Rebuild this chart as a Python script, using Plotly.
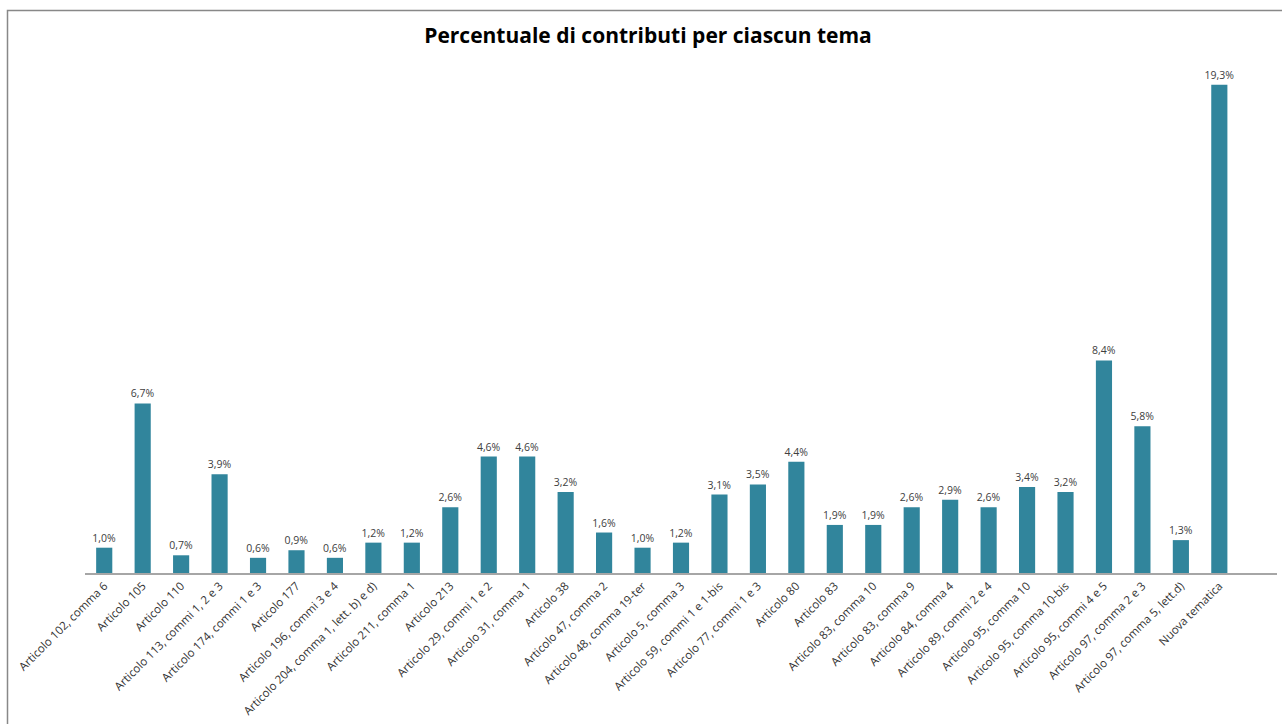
import plotly.graph_objects as go

categories = [
    "Articolo 102, comma 6", "Articolo 105", "Articolo 110", "Articolo 113, commi 1, 2 e 3",
    "Articolo 174, commi 1 e 3", "Articolo 177", "Articolo 196, commi 3 e 4",
    "Articolo 204, comma 1, lett. b) e d)", "Articolo 211, comma 1", "Articolo 213",
    "Articolo 29, commi 1 e 2", "Articolo 31, comma 1", "Articolo 38", "Articolo 47, comma 2",
    "Articolo 48, comma 19-ter", "Articolo 5, comma 3", "Articolo 59, commi 1 e 1-bis",
    "Articolo 77, commi 1 e 3", "Articolo 80", "Articolo 83", "Articolo 83, comma 10",
    "Articolo 83, comma 9", "Articolo 84, comma 4", "Articolo 89, commi 2 e 4",
    "Articolo 95, comma 10", "Articolo 95, comma 10-bis", "Articolo 95, commi 4 e 5",
    "Articolo 97, comma 2 e 3", "Articolo 97, comma 5, lett.d)", "Nuova tematica",
]
values = [1.0, 6.7, 0.7, 3.9, 0.6, 0.9, 0.6, 1.2, 1.2, 2.6, 4.6, 4.6, 3.2, 1.6, 1.0,
          1.2, 3.1, 3.5, 4.4, 1.9, 1.9, 2.6, 2.9, 2.6, 3.4, 3.2, 8.4, 5.8, 1.3, 19.3]
labels = [f"{v:.1f}%".replace(".", ",") for v in values]
title = "Percentuale di contributi per ciascun tema"

W, H = 1282, 724
L, T = 85, 67
R = W - 1277
B = H - 573
pw, ph = W - L - R, H - T - B

fig = go.Figure(go.Bar(
    x=categories, y=values, text=labels, textposition="outside",
    constraintext="none",
    textfont=dict(family="Open Sans, sans-serif", size=10.5, color="#404040"),
    marker=dict(color="#31859C", line=dict(width=0)),
    width=0.42, cliponaxis=False,
))

fig.update_layout(
    width=W, height=H,
    margin=dict(l=L, r=R, t=T, b=B, autoexpand=False),
    paper_bgcolor="white", plot_bgcolor="white",
    title=dict(text=f"<b>{title}</b>", x=648 / W, xanchor="center",
               y=1 - 36 / H, yanchor="middle", yref="container",
               font=dict(family="Open Sans, sans-serif", size=21, color="black")),
    xaxis=dict(type="category", range=[-0.5, 30.5], tickangle=-45,
               tickfont=dict(family="Open Sans, sans-serif", size=11.5, color="#333333"),
               showline=True, linecolor="#A6A6A6", linewidth=1.5,
               showgrid=False, ticks="", automargin=False),
    yaxis=dict(range=[0, 20], visible=False, showgrid=False, zeroline=False),
    showlegend=False,
    shapes=[dict(type="rect", xref="paper", yref="paper",
                 x0=(7.5 - L) / pw, x1=(W + 10 - L) / pw,
                 y0=(T + ph - (H + 10)) / ph, y1=(T + ph - 10.5) / ph,
                 line=dict(color="#888888", width=1.5), fillcolor="rgba(0,0,0,0)",
                 layer="below")],
)

fig.write_html("out.html", config={"displayModeBar": False},
               post_script="document.body.style.margin='0';")
